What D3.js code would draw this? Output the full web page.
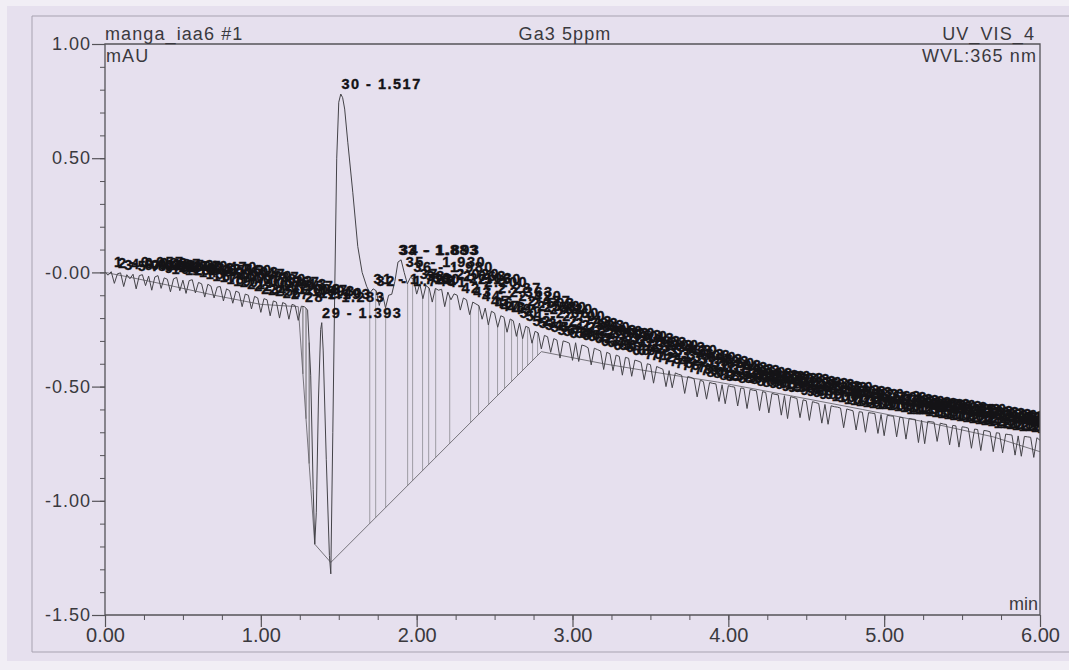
<!DOCTYPE html>
<html><head><meta charset="utf-8">
<script src="https://cdn.jsdelivr.net/npm/d3@7"></script>
<style>
html,body{margin:0;padding:0;background:#f1eef5;}
svg{display:block;}
text{font-family:"Liberation Sans",Arial,sans-serif;}
</style></head><body>
<svg id="c" width="1069" height="670"></svg>
<script>
// ---------- data ----------
const yTicks = [1.00, 0.50, 0.00, -0.50, -1.00, -1.50];
const yTickLabels = ["1.00", "0.50", "-0.00", "-0.50", "-1.00", "-1.50"];
const xTicks = [0, 1, 2, 3, 4, 5, 6];
const xTickLabels = ["0.00", "1.00", "2.00", "3.00", "4.00", "5.00", "6.00"];

// trace, t = 0.00 .. 1.26 min every 0.02 min (mAU)
const traceStart = [
  0.000,-0.012,0.003,-0.048,-0.006,-0.002,-0.062,-0.010,-0.028,-0.008,
  -0.072,-0.014,-0.010,-0.058,-0.016,-0.078,-0.020,-0.014,-0.070,-0.024,
  -0.030,-0.085,-0.028,-0.022,-0.080,-0.034,-0.092,-0.036,-0.032,-0.090,
  -0.044,-0.050,-0.108,-0.052,-0.060,-0.112,-0.064,-0.062,-0.125,-0.072,
  -0.080,-0.135,-0.082,-0.088,-0.150,-0.095,-0.100,-0.160,-0.105,-0.112,
  -0.175,-0.115,-0.120,-0.190,-0.125,-0.130,-0.200,-0.132,-0.138,-0.205,
  -0.140,-0.145,-0.210,-0.148
];
// trace around the dips and the main peak [min, mAU]
const tracePeak = [
  [1.280,-0.150],[1.300,-0.165],[1.320,-0.450],[1.336,-0.950],[1.346,-1.190],
  [1.356,-1.050],[1.370,-0.550],[1.384,-0.250],[1.391,-0.220],[1.400,-0.340],
  [1.420,-0.820],[1.440,-1.240],[1.449,-1.320],[1.462,-0.700],[1.474,-0.090],
  [1.487,0.500],[1.500,0.745],[1.513,0.781],[1.525,0.765],[1.538,0.715],
  [1.558,0.570],[1.590,0.351],[1.622,0.114],[1.650,0.000],[1.679,-0.061]
];
// trace, t = 1.70 .. 6.00 min every 0.02 min (mAU)
const traceEnd = [
  -0.090,-0.072,-0.080,-0.145,-0.092,-0.155,-0.100,-0.096,-0.040,0.045,
  0.055,0.000,-0.050,-0.022,-0.028,-0.095,-0.050,-0.115,-0.058,-0.068,
  -0.130,-0.070,-0.078,-0.074,-0.150,-0.086,-0.120,-0.094,-0.100,-0.165,
  -0.112,-0.120,-0.185,-0.130,-0.138,-0.146,-0.205,-0.156,-0.230,-0.170,
  -0.178,-0.240,-0.190,-0.196,-0.262,-0.204,-0.212,-0.280,-0.222,-0.290,
  -0.236,-0.242,-0.310,-0.258,-0.265,-0.335,-0.276,-0.282,-0.350,-0.290,
  -0.296,-0.375,-0.300,-0.304,-0.310,-0.385,-0.308,-0.390,-0.318,-0.322,
  -0.330,-0.405,-0.332,-0.338,-0.344,-0.425,-0.350,-0.356,-0.430,-0.362,
  -0.368,-0.450,-0.372,-0.376,-0.455,-0.384,-0.388,-0.394,-0.470,-0.400,
  -0.404,-0.485,-0.412,-0.418,-0.424,-0.500,-0.430,-0.505,-0.440,-0.446,
  -0.450,-0.530,-0.456,-0.460,-0.466,-0.545,-0.472,-0.478,-0.555,-0.482,
  -0.486,-0.488,-0.565,-0.492,-0.575,-0.496,-0.500,-0.502,-0.585,-0.506,
  -0.508,-0.596,-0.512,-0.516,-0.518,-0.605,-0.522,-0.526,-0.615,-0.530,
  -0.534,-0.536,-0.625,-0.540,-0.640,-0.544,-0.548,-0.552,-0.636,-0.558,
  -0.562,-0.648,-0.566,-0.570,-0.574,-0.660,-0.578,-0.665,-0.584,-0.588,
  -0.590,-0.594,-0.680,-0.598,-0.602,-0.606,-0.690,-0.610,-0.612,-0.700,
  -0.614,-0.616,-0.618,-0.705,-0.622,-0.715,-0.626,-0.628,-0.630,-0.720,
  -0.634,-0.636,-0.730,-0.640,-0.642,-0.644,-0.745,-0.648,-0.750,-0.652,
  -0.654,-0.656,-0.740,-0.660,-0.664,-0.666,-0.755,-0.670,-0.672,-0.765,
  -0.676,-0.678,-0.682,-0.770,-0.686,-0.688,-0.780,-0.692,-0.694,-0.698,
  -0.785,-0.702,-0.704,-0.790,-0.708,-0.710,-0.712,-0.800,-0.716,-0.805,
  -0.718,-0.720,-0.722,-0.810,-0.724,-0.735
];
// integration baseline [min, mAU]
const baseline = [
  [0.00,0.000],[0.15,-0.020],[0.40,-0.055],[0.70,-0.100],[1.00,-0.140],[1.24,-0.150],
  [1.346,-1.190],[1.449,-1.270],[2.80,-0.347],[3.20,-0.400],[3.60,-0.445],[3.93,-0.480],
  [4.40,-0.540],[4.86,-0.600],[5.30,-0.660],[5.70,-0.720],[6.00,-0.785]
];
// drop lines (min)
const dropTimesLeft = [1.270, 1.290, 1.310];
const dropTimes = [1.699,1.737,1.801,1.942,1.974,2.038,2.077,2.122,2.212,2.346,2.397,
  2.462,2.519,2.564,2.609,2.647,2.679,2.712,2.744,2.776];
// peak retention times, peaks numbered 1..N
const peakTimes = [
  0.057,0.083,0.123,0.167,0.210,0.253,0.297,0.340,0.383,0.427,0.470,0.513,0.560,0.603,
  0.647,0.690,0.737,0.780,0.823,0.867,0.913,0.957,1.003,1.047,1.093,1.140,1.193,1.283,
  1.393,1.517,1.723,1.743,1.883,1.893,1.930,1.980,2.020,2.063,2.103,2.160,2.200,2.287,
  2.363,2.420,2.477,2.503,2.540,2.580,2.620,2.660,2.700,2.743,
  2.783,2.823,2.860,2.903,2.940,2.983,3.020,3.063,3.100,3.143,3.183,3.223,3.263,3.300,
  3.343,3.383,3.420,3.463,3.503,3.540,3.583,3.623,3.660,3.703,3.743,3.783,3.823,3.860,
  3.903,3.943,3.983,4.020,4.063,4.103,4.143,4.183,4.220,4.263,4.303,4.343,4.383,4.420,
  4.463,4.503,4.543,4.583,4.620,4.663,4.703,4.743,4.783,4.820,4.863,4.903,4.943,4.983,
  5.020,5.063,5.103,5.143,5.183,5.220,5.263,5.303,5.343,5.383,5.420,5.463,5.503,5.543,
  5.583,5.620,5.663,5.703,5.743,5.783,5.820,5.863,5.903,5.943,5.983
];

// ---------- drawing ----------
const W = 1069, H = 670;
const svg = d3.select("#c");
const x = d3.scaleLinear().domain([0, 6]).range([105, 1040]);
const y = d3.scaleLinear().domain([-1.5, 1.0]).range([615, 44]);

// paper
svg.append("rect").attr("x",0).attr("y",0).attr("width",W).attr("height",H).attr("fill","#f1eef5");
svg.append("rect").attr("x",7).attr("y",6).attr("width",W-7).attr("height",655).attr("fill","#e6e0ee");
svg.append("path").attr("d","M32,16H1069M32,16V652H1069").attr("fill","none")
  .attr("stroke","#a7a2b0").attr("stroke-width",1);

const trace = traceStart.map((v,i)=>[+(i*0.02).toFixed(3), v])
  .concat(tracePeak)
  .concat(traceEnd.map((v,i)=>[+(1.70+i*0.02).toFixed(3), v]));

function interp(arr, t){
  const i = d3.bisector(d=>d[0]).left(arr, t);
  if (i<=0) return arr[0][1];
  if (i>=arr.length) return arr[arr.length-1][1];
  const a=arr[i-1], b=arr[i];
  return a[1] + (b[1]-a[1])*(t-a[0])/(b[0]-a[0]);
}

svg.append("clipPath").attr("id","pc").append("rect")
  .attr("x",105).attr("y",44).attr("width",935).attr("height",571);
const plot = svg.append("g").attr("clip-path","url(#pc)");

// drop lines
plot.selectAll(".dropL").data(dropTimesLeft).join("line")
  .attr("x1",d=>x(d)).attr("x2",d=>x(d))
  .attr("y1",d=>y(interp(trace,d))).attr("y2",d=>y(interp(baseline,d)))
  .attr("stroke","#5a5a5a").attr("stroke-width",0.9);
plot.selectAll(".drop").data(dropTimes).join("line")
  .attr("x1",d=>x(d)).attr("x2",d=>x(d))
  .attr("y1",d=>y(interp(trace,d))).attr("y2",d=>y(interp(baseline,d)))
  .attr("stroke","#8c8a90").attr("stroke-width",0.8);

// baseline
const line = d3.line().x(d=>x(d[0])).y(d=>y(d[1]));
plot.append("path").attr("d", line(baseline)).attr("fill","none")
  .attr("stroke","#6a686e").attr("stroke-width",0.9);

// trace
plot.append("path").attr("d", line(trace)).attr("fill","none")
  .attr("stroke","#444348").attr("stroke-width",1).attr("stroke-linejoin","round");

// peak labels
function peakVal(t){
  let m = interp(trace,t);
  trace.forEach(p=>{ if (Math.abs(p[0]-t)<=0.021 && p[1]>m) m=p[1]; });
  return m;
}
plot.selectAll(".pk").data(peakTimes).join("text")
  .attr("x",d=>x(d)).attr("y",d=>y(peakVal(d))-5)
  .attr("font-size",14.5).attr("font-weight","bold").attr("letter-spacing","1.5px")
  .attr("fill","#141316").attr("stroke","#141316").attr("stroke-width",0.35)
  .text((d,i)=>`${i+1} - ${d.toFixed(3)}`);

// frame
svg.append("path").attr("d","M105,44H1040V615H105Z").attr("fill","none")
  .attr("stroke","#555358").attr("stroke-width",1.3);

// y axis
const yMinor = d3.range(-15, 11).map(k=>k/10);
svg.append("g").attr("transform","translate(105,0)")
  .call(d3.axisLeft(y).tickValues(yMinor).tickSize(5).tickFormat(""))
  .call(g=>g.select(".domain").remove())
  .call(g=>g.selectAll("line").attr("stroke","#555358"));
svg.append("g").attr("transform","translate(105,0)")
  .call(d3.axisLeft(y).tickValues(yTicks).tickSize(13).tickPadding(1)
    .tickFormat((d,i)=>yTickLabels[i]))
  .call(g=>g.select(".domain").remove())
  .call(g=>g.selectAll("line").attr("stroke","#555358").attr("stroke-width",1.2))
  .call(g=>g.selectAll("text").attr("font-size",18).attr("letter-spacing","1px")
    .attr("fill","#3a393e").attr("font-family","'Liberation Sans',Arial,sans-serif"));

// x axis
const xMinor = d3.range(0, 25).map(k=>k*0.25);
svg.append("g").attr("transform","translate(0,615)")
  .call(d3.axisBottom(x).tickValues(xMinor).tickSize(5).tickFormat(""))
  .call(g=>g.select(".domain").remove())
  .call(g=>g.selectAll("line").attr("stroke","#555358"));
svg.append("g").attr("transform","translate(0,615)")
  .call(d3.axisBottom(x).tickValues(xTicks).tickSize(12).tickPadding(1)
    .tickFormat((d,i)=>xTickLabels[i]))
  .call(g=>g.select(".domain").remove())
  .call(g=>g.selectAll("line").attr("stroke","#555358").attr("stroke-width",1.2))
  .call(g=>g.selectAll("text").attr("font-size",20)
    .attr("fill","#3a393e").attr("font-family","'Liberation Sans',Arial,sans-serif"));

// header texts
const hdr = svg.append("g").attr("fill","#3a393e").attr("font-size",18).attr("letter-spacing","1.1px");
hdr.append("text").attr("x",105).attr("y",40).text("manga_iaa6 #1");
hdr.append("text").attr("x",106).attr("y",62).text("mAU");
hdr.append("text").attr("x",565).attr("y",40).attr("text-anchor","middle").text("Ga3 5ppm");
hdr.append("text").attr("x",1035).attr("y",40).attr("text-anchor","end").text("UV_VIS_4");
hdr.append("text").attr("x",1037).attr("y",62).attr("text-anchor","end").text("WVL:365 nm");
hdr.append("text").attr("x",1038).attr("y",610).attr("text-anchor","end").attr("letter-spacing","0px").text("min");
</script>
</body></html>
